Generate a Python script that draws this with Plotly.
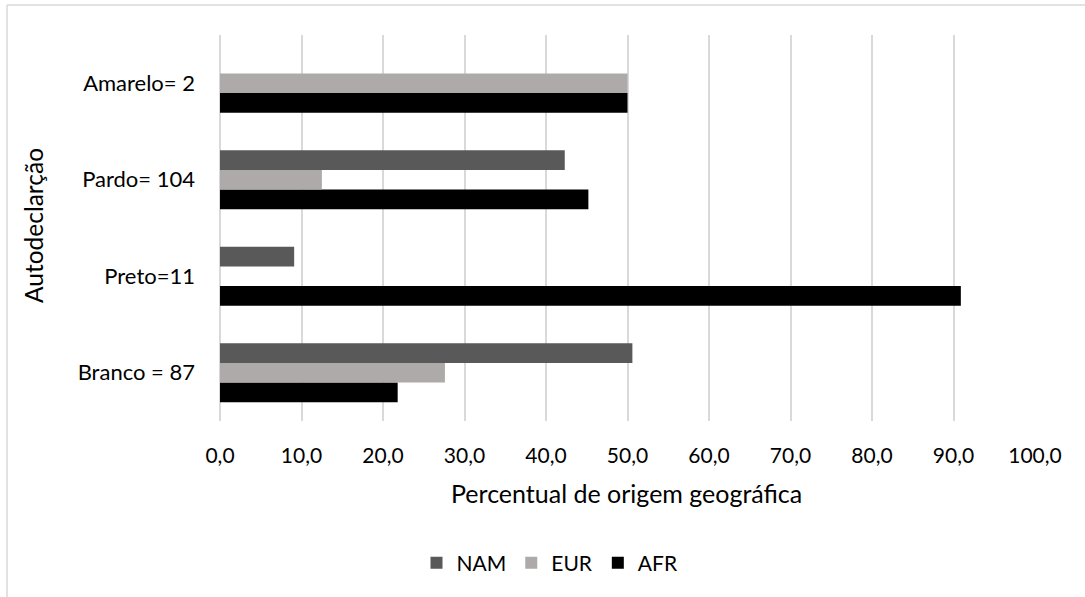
import plotly.graph_objects as go

# Self-declared groups (bottom to top) and ancestry percentages
categories = ["Branco = 87", "Preto=11", "Pardo= 104", "Amarelo= 2"]
nam = [50.6, 9.1, 42.3, 0.0]
eur = [27.6, 0.0, 12.5, 50.0]
afr = [21.8, 90.9, 45.2, 50.0]

x_ticks = [0, 10, 20, 30, 40, 50, 60, 70, 80, 90, 100]

W, H = 1085, 597
L, R, T, B = 220, 50, 35, 176
pw, ph = W - L - R, H - T - B


def px_x(p):
    return (p - L) / pw


def px_y(p):
    return (H - B - p) / ph


FONT = "Lato"
fig = go.Figure()

# Trace order puts AFR lowest and NAM on top within each group
fig.add_trace(go.Bar(y=categories, x=afr, name="AFR", orientation="h",
                     marker=dict(color="#000000", line=dict(width=0)),
                     legendrank=3))
fig.add_trace(go.Bar(y=categories, x=eur, name="EUR", orientation="h",
                     marker=dict(color="#aeaaaa", line=dict(width=0)),
                     legendrank=2))
fig.add_trace(go.Bar(y=categories, x=nam, name="NAM", orientation="h",
                     marker=dict(color="#595959", line=dict(width=0)),
                     legendrank=1))

fig.update_layout(
    width=W, height=H,
    margin=dict(l=L, r=R, t=T, b=B, autoexpand=False),
    paper_bgcolor="white", plot_bgcolor="white",
    barmode="group", bargap=0.39, bargroupgap=0,
    separators=",.",
    font=dict(family=FONT, size=21, color="#000000"),
    showlegend=True,
    legend=dict(orientation="h", x=px_x(550), xanchor="center",
                y=px_y(563), yanchor="middle",
                font=dict(family=FONT, size=21, color="#000000"),
                itemwidth=30, tracegroupgap=0),
    xaxis=dict(range=[0, 100], tickvals=x_ticks, tickformat=".1f",
               showgrid=True, gridcolor="#d9d9d9", gridwidth=2,
               zeroline=True, zerolinecolor="#d9d9d9", zerolinewidth=2,
               showline=False, ticks="", ticklen=0, ticklabelstandoff=20,
               tickfont=dict(family=FONT, size=21, color="#000000")),
    yaxis=dict(showgrid=False, zeroline=False, showline=False, ticks="",
               ticklabelstandoff=24,
               tickfont=dict(family=FONT, size=22, color="#000000")),
    annotations=[
        dict(text="Percentual de origem geográfica", xref="paper", yref="paper",
             x=px_x(626), y=px_y(493), xanchor="center", yanchor="middle",
             showarrow=False, font=dict(family=FONT, size=25, color="#000000")),
        dict(text="Autodeclarção", xref="paper", yref="paper",
             x=px_x(33), y=px_y(226), xanchor="center", yanchor="middle",
             textangle=-90, showarrow=False,
             font=dict(family=FONT, size=24.5, color="#000000")),
    ],
    shapes=[
        dict(type="line", xref="paper", yref="paper",
             x0=px_x(7), x1=px_x(1090), y0=px_y(5), y1=px_y(5),
             line=dict(color="#d9d9d9", width=1.5)),
        dict(type="line", xref="paper", yref="paper",
             x0=px_x(7), x1=px_x(7), y0=px_y(5), y1=px_y(600),
             line=dict(color="#d9d9d9", width=1.5)),
    ],
)

fig.write_html("out.html")
